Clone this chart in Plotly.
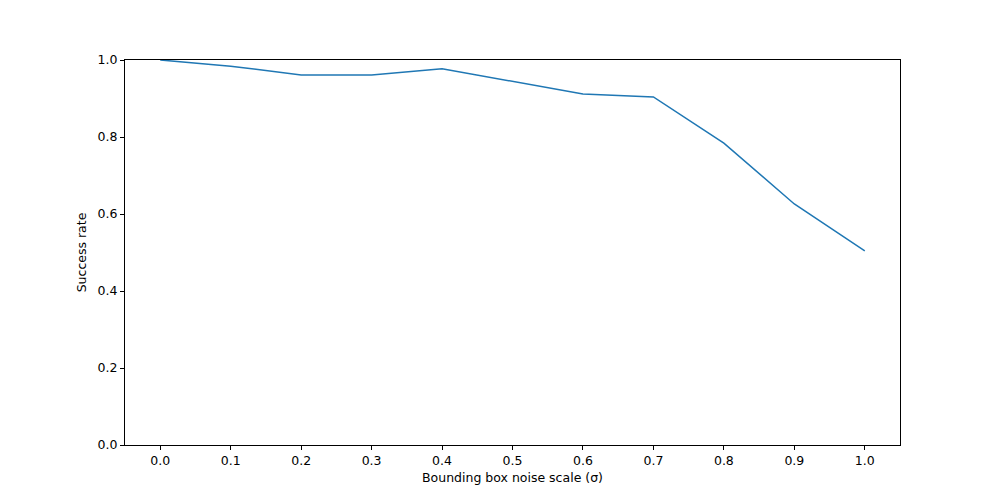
import plotly.graph_objects as go

noise = [0.0, 0.1, 0.2, 0.3, 0.4, 0.5, 0.6, 0.7, 0.8, 0.9, 1.0]
success = [1.0, 0.984, 0.961, 0.961, 0.977, 0.945, 0.912, 0.904, 0.784, 0.626, 0.504]
xticks = [0.0, 0.1, 0.2, 0.3, 0.4, 0.5, 0.6, 0.7, 0.8, 0.9, 1.0]
yticks = [0.0, 0.2, 0.4, 0.6, 0.8, 1.0]

fig = go.Figure(go.Scatter(x=noise, y=success, mode="lines",
                           line=dict(color="#1f77b4", width=1.5)))
axis_common = dict(showline=True, linecolor="black", linewidth=1, mirror=True,
                   ticks="outside", ticklen=4, tickcolor="black", showgrid=False,
                   zeroline=False, tickfont=dict(size=12.5, color="black"))
fig.update_xaxes(range=[-0.05, 1.05], tickvals=xticks,
                 ticktext=[f"{v:.1f}" for v in xticks],
                 title=dict(text="Bounding box noise scale (σ)", font=dict(size=12.5, color="black"), standoff=6),
                 **axis_common)
fig.update_yaxes(range=[0, 1], tickvals=yticks,
                 ticktext=[f"{v:.1f}" for v in yticks],
                 title=dict(text="Success rate", font=dict(size=12.5, color="black"), standoff=8),
                 **axis_common)
fig.update_layout(width=1000, height=500, plot_bgcolor="white", paper_bgcolor="white",
                  margin=dict(l=117, r=108, t=52, b=63), showlegend=False,
                  font=dict(family="DejaVu Sans"))
fig.write_html("out.html")
